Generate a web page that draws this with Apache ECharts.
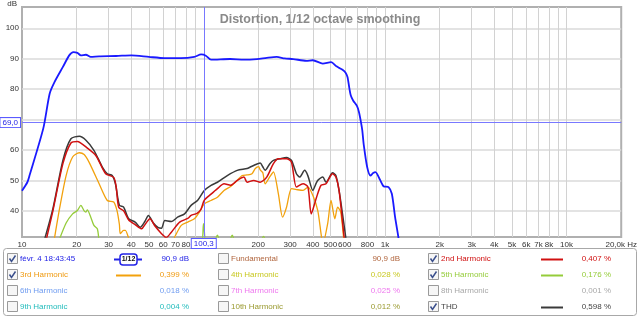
<!DOCTYPE html>
<html>
<head>
<meta charset="utf-8">
<script src="https://cdn.jsdelivr.net/npm/echarts@6/dist/echarts.min.js"></script>
<style>html,body{margin:0;padding:0;background:#fff}#chart{width:640px;height:318px}</style>
</head>
<body>
<div id="chart"></div>
<script>
// axis ticks
var xLabelValues = [10, 20, 30, 40, 50, 60, 70, 80, 200, 300, 400, 500, 600, 800, 1000, 2000, 3000, 4000, 5000, 6000, 7000, 8000, 10000, 20000];
var xGridValues = [20, 30, 40, 50, 60, 70, 80, 90, 200, 300, 400, 500, 600, 700, 800, 900, 1000, 2000, 3000, 4000, 5000, 6000, 7000, 8000, 9000, 10000];
var yTickValues = [40, 50, 60, 70, 80, 90, 100];
var cursorFreq = 100.3;
var cursorDb = 69.0;

// [Hz, dB]
var fundamental = [[10, 46.6], [10.7, 49.4], [11, 51.6], [13.1, 67.1], [14.2, 78.5], [15.1, 82.3], [16.8, 87.3], [18.2, 91.1], [19.2, 92.2], [20.2, 91.9], [21.1, 91.1], [22.5, 91.3], [23.9, 90.6], [26.6, 90.8], [33, 90.9], [40, 91.1], [50, 90.6], [61, 90.2], [75, 90.2], [89, 90.6], [97, 91.4], [103, 91.0], [110, 89.7], [140, 89.9], [167, 89.7], [197, 89.9], [223, 90.3], [253, 90.6], [280, 90.1], [312, 89.9], [368, 89.3], [400, 89.5], [454, 88.4], [504, 88.9], [540, 87.5], [558, 87.0], [583, 86.4], [605, 85.5], [621, 84.0], [635, 80.5], [647, 78.0], [668, 76.2], [700, 74.5], [718, 72.5], [735, 69.5], [749, 66.5], [764, 61.5], [797, 54.4], [831, 51.6], [860, 52.4], [885, 52.7], [942, 50.0], [981, 48.1], [1045, 47.8], [1090, 45.6], [1136, 37.9], [1184, 31.4], [1220, 26]];

var harm2 = [[13.6, 30.5], [14.8, 40], [16.8, 55.5], [18.6, 62.3], [20.2, 62.8], [20.7, 62.6], [22.5, 61], [25.5, 58.2], [28.9, 52.2], [32, 51.0], [33, 48], [34.1, 41.2], [36.3, 40], [38.7, 37.0], [42, 35.5], [45.7, 34.1], [47, 35], [50.7, 37.4], [54, 35], [58.7, 32.5], [62.2, 31.2], [66.5, 33.0], [73.9, 36.3], [81.9, 37.5], [85.4, 38.5], [92, 39.2], [96.8, 40.5], [101, 43.5], [110, 45.5], [119.3, 47.3], [129.7, 48.9], [141, 48.4], [153.3, 50.0], [167, 51.1], [173.7, 49.4], [188.9, 50.0], [205.2, 49.4], [223, 51.1], [242.7, 55.5], [258.4, 57.1], [286.6, 57.1], [305.2, 56.0], [324.9, 47.8], [353.3, 48.9], [376, 47.8], [392, 39.0], [417, 44.0], [444, 48.4], [473, 48.9], [514, 52.2], [536, 51.1], [558, 46.7], [595, 31.4], [610, 27]];

var harm3 = [[15.1, 31], [16.1, 40.7], [17.5, 51.6], [19, 57.7], [20.7, 59.1], [22, 58.5], [23.4, 56.0], [26.6, 48.9], [29.5, 43.4], [32, 42.9], [33.4, 40], [34.4, 35.5], [34.8, 32.5], [36.3, 33.6], [37.1, 33.6], [38.7, 31], [39.5, 29], [66.5, 29], [69.4, 31.4], [75.4, 35.2], [81.9, 36.3], [89, 37.4], [94.9, 39.6], [101, 42.3], [110, 43.4], [119.3, 44.5], [129.7, 46.7], [141, 48.0], [153.3, 50.0], [163.2, 51.6], [173.7, 51.8], [184.9, 52.2], [192.8, 53.9], [201.1, 54.5], [205.2, 53.5], [212.2, 52.5], [218.4, 48.9], [232.5, 51.3], [242.7, 52.8], [258.4, 45.6], [272.6, 37.9], [286.6, 41.2], [305.2, 47.3], [324.9, 47.0], [353.3, 46.7], [376, 47.8], [400, 45.1], [426, 40.1], [444, 32.5], [454, 29], [483, 35.8], [504, 43.4], [529, 37.4], [548, 41.2], [570, 39.6], [595, 29]];

var harm5 = [[15.7, 29], [17.5, 36], [19, 39], [20.2, 40.1], [21.1, 41.8], [22, 40], [22.5, 39.6], [22.9, 40.3], [23.9, 38], [24.9, 35.2], [26, 34.1], [26.6, 30], [27, 28], [96, 28], [100, 35.8], [104, 28], [115, 30], [119.3, 32.0], [124, 30], [138, 30], [143.9, 32.0], [150, 30], [205, 30], [214, 31.6], [222, 30], [260, 28]];

var thd = [[13.3, 30.5], [14.8, 40.7], [16.8, 56.6], [18.6, 63.7], [20.7, 64.5], [22.5, 63.2], [24.9, 59.9], [27.7, 54.4], [29.5, 52.2], [31.4, 51.6], [32.7, 48.9], [34.4, 41.8], [36.3, 41.2], [38.7, 37.4], [42, 36.3], [44.8, 34.6], [47.5, 36.5], [49.7, 38.5], [52.9, 36], [56.3, 34.5], [58.7, 34.3], [61.2, 36.8], [66.5, 36.5], [72.3, 38], [78.6, 39.0], [85.4, 41.8], [92.9, 43.5], [101, 46.7], [110, 48.4], [119.3, 49.4], [135.2, 51.6], [153.3, 53.3], [173.7, 53.9], [181, 54.4], [190, 55.0], [205.2, 55.7], [212, 54.5], [218.4, 53.3], [232, 55.5], [242.7, 56.6], [263.6, 57.1], [286.6, 57.5], [305.2, 56.6], [324.9, 52.2], [338.6, 51.1], [360.4, 53.3], [376, 51.5], [400, 46.7], [417, 49.0], [426, 50.0], [454, 51.1], [473, 49.4], [514, 52.5], [536, 51.6], [558, 46.7], [583, 39.0], [607, 31.4], [620, 28]];

// legend table: [checked, name, value, colour, sample line]
var legendRows = [
    [[true, 'févr. 4 18:43:45', '90,9 dB', '#2323e6', 'cal'], [false, 'Fundamental', '90,9 dB', '#b0643c', null], [true, '2nd Harmonic', '0,407 %', '#d01010', '#d01010']],
    [[true, '3rd Harmonic', '0,399 %', '#ef9a10', '#f2a10c'], [false, '4th Harmonic', '0,028 %', '#c8c820', null], [true, '5th Harmonic', '0,176 %', '#95cc3a', '#95cc3a']],
    [[false, '6th Harmonic', '0,018 %', '#6f9cf0', null], [false, '7th Harmonic', '0,025 %', '#ee77ee', null], [false, '8th Harmonic', '0,001 %', '#a8a8a8', null]],
    [[false, '9th Harmonic', '0,004 %', '#22bcbc', null], [false, '10th Harmonic', '0,012 %', '#9a9a30', null], [true, 'THD', '0,598 %', '#444444', '#3a3a3a']]
];

var FONT = 'Liberation Sans, Arial, sans-serif';
var myChart = echarts.init(document.getElementById('chart'));

function fmtHz(v) {
    if (v === 20000) return '20,0k Hz';
    if (v >= 1000) return (v / 1000) + 'k';
    return String(v);
}

// legend table built as graphic elements
var graphics = [
    { type: 'rect', shape: { x: 3.5, y: 248.5, width: 633, height: 67, r: 3 }, style: { fill: '#fff', stroke: '#a8a8a8', lineWidth: 1 } },
    { type: 'text', x: 17, y: 4, style: { text: 'dB', fill: '#333', font: '8px ' + FONT, textAlign: 'right', textVerticalAlign: 'middle' } }
];
var colX = [
    { box: 7, text: 20, line: [116, 141], val: 189 },
    { box: 218, text: 231, line: null, val: 400 },
    { box: 428, text: 441, line: [541, 563], val: 611 }
];
var rowY = [259, 275, 291, 307];
legendRows.forEach(function (row, r) {
    var y = rowY[r];
    row.forEach(function (cell, c) {
        var cx = colX[c];
        graphics.push({ type: 'rect', shape: { x: cx.box + 0.5, y: y - 5.5, width: 10, height: 10 }, style: { fill: '#f6f6f6', stroke: '#9a9a9a', lineWidth: 1 } });
        if (cell[0]) {
            graphics.push({ type: 'polyline', shape: { points: [[cx.box + 2.5, y - 0.5], [cx.box + 4.5, y + 2.5], [cx.box + 8.5, y - 3.5]] }, style: { stroke: '#3b4f8c', lineWidth: 1.5, fill: null } });
        }
        graphics.push({ type: 'text', x: cx.text, y: y, style: { text: cell[1], fill: cell[3], font: '8px ' + FONT, textVerticalAlign: 'middle' } });
        graphics.push({ type: 'text', x: cx.val, y: y, style: { text: cell[2], fill: cell[3], font: '8px ' + FONT, textAlign: 'right', textVerticalAlign: 'middle' } });
        if (cell[4] === 'cal') {
            graphics.push({ type: 'line', shape: { x1: 114, y1: y + 0.5, x2: 142, y2: y + 0.5 }, style: { stroke: '#2323e6', lineWidth: 2 } });
            graphics.push({ type: 'rect', shape: { x: 120, y: y - 5, width: 17, height: 11, r: 3 }, style: { fill: '#fff', stroke: '#2323e6', lineWidth: 1.5 } });
            graphics.push({ type: 'text', x: 128.5, y: y + 0.5, style: { text: '1/12', fill: '#111', font: 'bold 7px ' + FONT, textAlign: 'center', textVerticalAlign: 'middle' } });
        } else if (cell[4] && cx.line) {
            graphics.push({ type: 'line', shape: { x1: cx.line[0], y1: y + 0.5, x2: cx.line[1], y2: y + 0.5 }, style: { stroke: cell[4], lineWidth: 2 } });
        }
    });
});

function curve(name, data, color, width, z) {
    return {
        name: name, type: 'line', data: data, showSymbol: false, smooth: 0.25,
        lineStyle: { color: color, width: width }, z: z, clip: true
    };
}

var option = {
    animation: false,
    title: {
        text: 'Distortion, 1/12 octave smoothing',
        left: 'center', top: 8,
        textStyle: { fontSize: 12.5, fontWeight: 'bold', color: '#8a8a8a', fontFamily: FONT }
    },
    grid: { left: 22, right: 11, top: 7, bottom: 81, show: true, borderColor: '#b0b0b0', borderWidth: 2 },
    xAxis: {
        type: 'log', logBase: 10, min: 10, max: 20000,
        axisLine: { show: false },
        axisTick: { show: false, customValues: xGridValues },
        splitLine: { show: true, lineStyle: { color: '#d2d2d2', width: 1 } },
        axisLabel: { customValues: xLabelValues, formatter: fmtHz, color: '#333', fontSize: 8, fontFamily: FONT, margin: 4 }
    },
    yAxis: {
        type: 'value', min: 31.4, max: 107,
        axisLine: { show: false },
        axisTick: { show: false, customValues: yTickValues },
        splitLine: { show: true, lineStyle: { color: '#dadada', width: 1.5 } },
        axisLabel: { customValues: yTickValues, color: '#333', fontSize: 8, fontFamily: FONT, margin: 3 }
    },
    graphic: graphics,
    series: [
        curve('5th Harmonic', harm5, '#95cc3a', 1.3, 2),
        curve('3rd Harmonic', harm3, '#f2a10c', 1.3, 3),
        curve('THD', thd, '#3a3a3a', 1.5, 4),
        curve('2nd Harmonic', harm2, '#d01010', 1.5, 5),
        {
            name: 'févr. 4 18:43:45', type: 'line', data: fundamental, showSymbol: false, smooth: 0.25, z: 6,
            lineStyle: { color: '#1a1aff', width: 1.8 },
            markLine: {
                silent: true, symbol: 'none', animation: false,
                lineStyle: { color: '#7878ff', width: 1, type: 'solid' },
                label: {
                    position: 'start', color: '#2323e6', fontSize: 8, fontFamily: FONT,
                    borderColor: '#5a5aff', borderWidth: 1, backgroundColor: '#fff', padding: [1, 2, 0, 2], distance: 2
                },
                data: [
                    { xAxis: cursorFreq, label: { formatter: '100,3' } },
                    { yAxis: cursorDb, label: { formatter: '69,0' } }
                ]
            }
        }
    ]
};

myChart.setOption(option);
</script>
</body>
</html>
